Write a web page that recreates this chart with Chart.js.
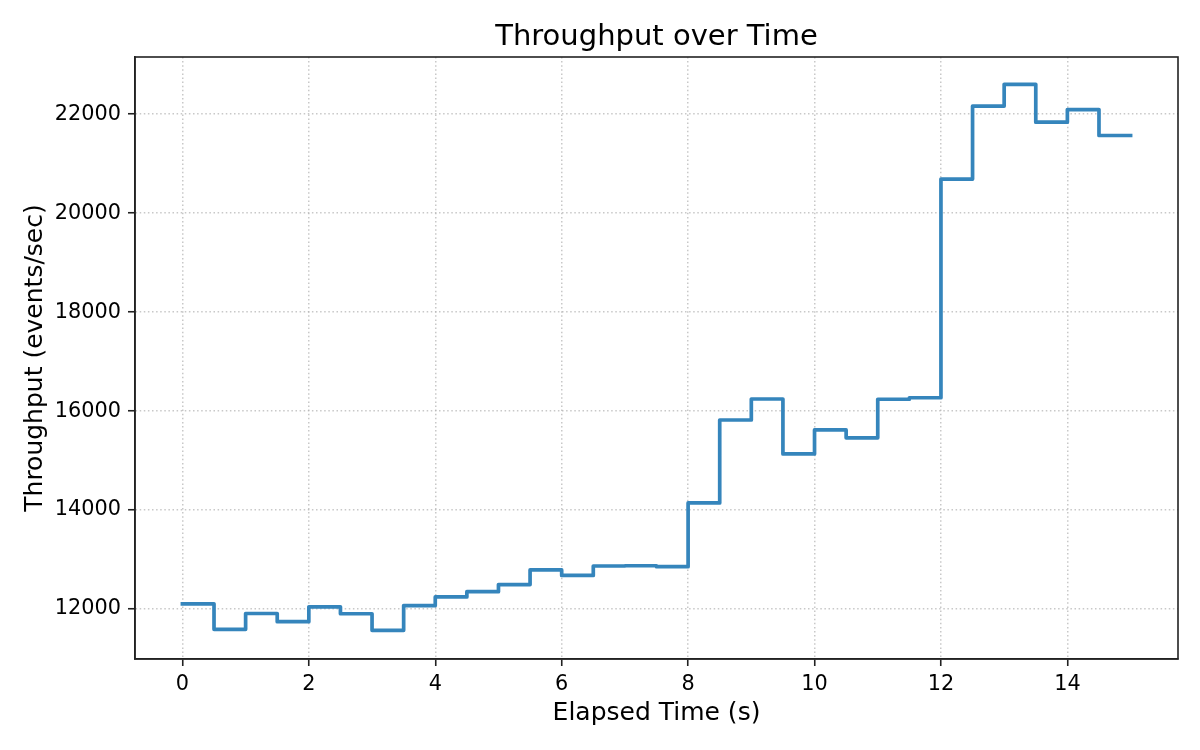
<!DOCTYPE html>
<html>
<head>
<meta charset="utf-8">
<script src="https://cdn.jsdelivr.net/npm/chart.js@4.4.1/dist/chart.umd.min.js"></script>
<style>
  html, body { margin: 0; padding: 0; background: #ffffff; }
  #wrap { width: 1200px; height: 750px; position: relative; }
</style>
</head>
<body>
<div id="wrap"><canvas id="c" width="1200" height="750"></canvas></div>
<script>
const chartTitle = 'Throughput over Time';
const xAxisLabel = 'Elapsed Time (s)';
const yAxisLabel = 'Throughput (events/sec)';

const times = [0, 0.5, 1, 1.5, 2, 2.5, 3, 3.5, 4, 4.5, 5, 5.5, 6, 6.5, 7, 7.5,
               8, 8.5, 9, 9.5, 10, 10.5, 11, 11.5, 12, 12.5, 13, 13.5, 14, 14.5, 15];
const throughput = [12105, 11590, 11910, 11745, 12045, 11905, 11570, 12070, 12245, 12350,
                    12495, 12790, 12680, 12870, 12875, 12855, 14145, 15820, 16245, 15135,
                    15620, 15460, 16240, 16270, 20690, 22165, 22605, 21840, 22095, 21570, 21570];

const xTicks = [0, 2, 4, 6, 8, 10, 12, 14];
const yTicks = [12000, 14000, 16000, 18000, 20000, 22000];
const xRange = [-0.75, 15.75];
const yRange = [10990, 23157];

const FONT = '"DejaVu Sans", "Liberation Sans", sans-serif';
const SPINE = '#222222';
const GRID = 'rgba(176,176,176,0.7)';

const framePlugin = {
  id: 'frameAndTitle',
  afterDraw(chart) {
    const { ctx, chartArea: a } = chart;
    ctx.save();
    ctx.setLineDash([]);
    ctx.strokeStyle = SPINE;
    ctx.lineWidth = 1.6;
    ctx.strokeRect(a.left, a.top, a.right - a.left, a.bottom - a.top);
    ctx.fillStyle = '#000000';
    ctx.font = '29px ' + FONT;
    ctx.textAlign = 'center';
    ctx.textBaseline = 'alphabetic';
    ctx.fillText(chartTitle, (a.left + a.right) / 2, a.top - 12.5);
    ctx.restore();
  }
};

const gridOpts = {
  color: GRID,
  lineWidth: 1.5,
  drawTicks: true,
  tickLength: 7,
  tickColor: SPINE,
  tickWidth: 1.6,
  tickBorderDash: []
};
const borderOpts = { display: true, color: SPINE, width: 1.6, dash: [1.5, 2.6] };

new Chart(document.getElementById('c'), {
  type: 'line',
  data: {
    datasets: [{
      label: 'Throughput',
      data: times.map((t, i) => ({ x: t, y: throughput[i] })),
      stepped: true,
      borderColor: '#3585bc',
      borderWidth: 3.7,
      borderCapStyle: 'square',
      borderJoinStyle: 'round',
      pointRadius: 0,
      pointHoverRadius: 0,
      fill: false,
      tension: 0
    }]
  },
  options: {
    responsive: false,
    animation: false,
    devicePixelRatio: 1,
    layout: { padding: { top: 57, right: 22, bottom: 0, left: 0 } },
    plugins: {
      legend: { display: false },
      title: { display: false },
      tooltip: { enabled: false }
    },
    scales: {
      x: {
        type: 'linear',
        min: xRange[0],
        max: xRange[1],
        afterBuildTicks(scale) { scale.ticks = xTicks.map(v => ({ value: v })); },
        afterFit(scale) { scale.height = 91; },
        ticks: {
          color: '#000000',
          font: { family: FONT, size: 20.8 },
          padding: 6,
          maxRotation: 0,
          autoSkip: false,
          callback: (v) => String(v)
        },
        grid: gridOpts,
        border: borderOpts,
        title: {
          display: true,
          text: xAxisLabel,
          color: '#000000',
          font: { family: FONT, size: 25, lineHeight: 1.2 },
          padding: { top: 0, bottom: 22 }
        }
      },
      y: {
        type: 'linear',
        min: yRange[0],
        max: yRange[1],
        afterBuildTicks(scale) { scale.ticks = yTicks.map(v => ({ value: v })); },
        afterFit(scale) { scale.width = 135; },
        ticks: {
          color: '#000000',
          font: { family: FONT, size: 20.8 },
          padding: 7,
          callback: (v) => String(v)
        },
        grid: gridOpts,
        border: borderOpts,
        title: {
          display: true,
          text: yAxisLabel,
          color: '#000000',
          font: { family: FONT, size: 25, lineHeight: 1.2 },
          padding: { top: 20, bottom: 0 }
        }
      }
    }
  },
  plugins: [framePlugin]
});
</script>
</body>
</html>
